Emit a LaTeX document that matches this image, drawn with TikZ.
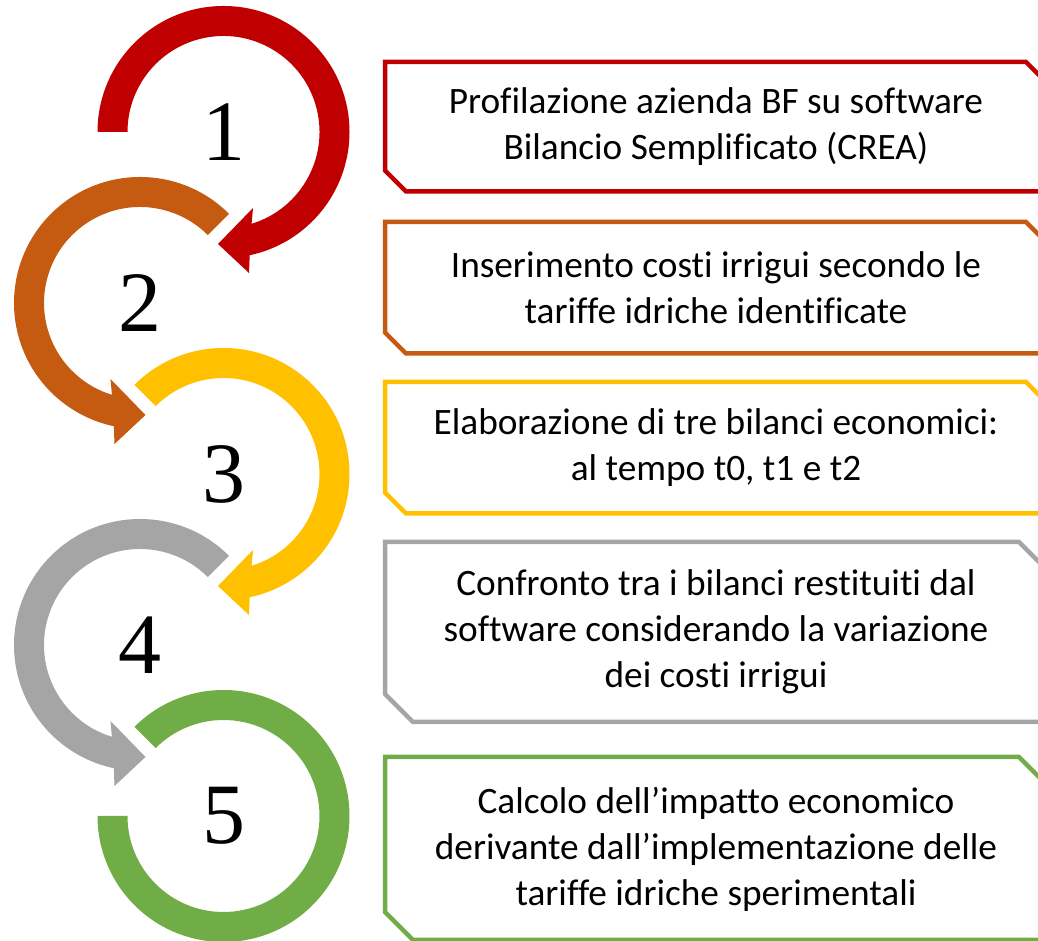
\documentclass[tikz,border=0pt]{standalone}
\usepackage{fontspec}
\setmainfont{Carlito}[Ligatures=NoCommon]
\newfontfamily\numfont{Liberation Serif}
\definecolor{cred}{HTML}{C00000}
\definecolor{corange}{HTML}{C55A11}
\definecolor{cyellow}{HTML}{FFC000}
\definecolor{cgray}{HTML}{A5A5A5}
\definecolor{cgreen}{HTML}{70AD47}
\newcommand\cwarrow[3]{%
  \fill[#3,shift={#1}] (#2:96) -- (#2:126) arc[start angle=#2, end angle=-78, radius=126]
    -- (25.5,-141) -- (-5.5,-112) -- (29.5,-76) -- (-73:96)
    arc[start angle=-73, end angle=#2, radius=96] -- cycle;}
\newcommand\ccwarrow[3]{%
  \fill[#3,shift={#1}] (#2:96) -- (#2:126) arc[start angle=#2, end angle=258, radius=126]
    -- (-25.5,-141) -- (5.5,-112) -- (-29.5,-76) -- (253:96)
    arc[start angle=253, end angle=#2, radius=96] -- cycle;}
\newcommand\snipbox[4]{%
  \draw[boxline,#4] (385,{941-#1}) -- ({1047-#3},{941-#1}) -- (1047,{941-#1-#3})
    -- (1047,{941-#2}) -- ({385+#3},{941-#2}) -- (385,{941-#2+#3}) -- cycle;}
\begin{document}
\begin{tikzpicture}[x=1pt,y=1pt,
  boxline/.style={line width=4.5pt, line join=miter},
  numlabel/.style={font=\numfont\fontsize{86}{90}\selectfont, inner sep=0pt},
  boxtext/.style={font=\fontsize{37.3}{46}\selectfont, align=center, inner sep=0pt}]
\useasboundingbox (0,0) rectangle (1038,941);
\clip (0,0) rectangle (1038,941);
% circular arrows
\cwarrow{(223.5,809)}{180}{cred}
\ccwarrow{(140,638)}{45}{corange}
\cwarrow{(223.5,467)}{135}{cyellow}
\ccwarrow{(140,296)}{45}{cgray}
\fill[cgreen,shift={(223.5,125)}] (135:96) -- (135:126) arc[start angle=135, end angle=-180, radius=126]
   -- (-180:96) arc[start angle=-180, end angle=135, radius=96] -- cycle;
% numbers
\node[numlabel] (n1) at (223.5,809) {1};
\node[numlabel] (n2) at (140,638) {2};
\node[numlabel] (n3) at (223.5,467) {3};
\node[numlabel] (n4) at (140,296) {4};
\node[numlabel] (n5) at (223.5,125) {5};
% boxes
\snipbox{62}{191.5}{21}{cred}
\snipbox{222}{353.5}{21}{corange}
\snipbox{382}{513.5}{21}{cyellow}
\snipbox{542}{722}{28}{cgray}
\snipbox{757}{940}{28}{cgreen}
% texts
\node[boxtext] (t1) at (716,814) {Profilazione azienda BF su software\\Bilancio Semplificato (CREA)};
\node[boxtext] (t2) at (716,653) {Inserimento costi irrigui secondo le\\tariffe idriche identificate};
\node[boxtext] (t3) at (716,493) {Elaborazione di tre bilanci economici:\\al tempo t0, t1 e t2};
\node[boxtext] (t4) at (716,309) {Confronto tra i bilanci restituiti dal\\software considerando la variazione\\dei costi irrigui};
\node[boxtext] (t5) at (716,92) {Calcolo dell’impatto economico\\derivante dall’implementazione delle\\tariffe idriche sperimentali};
\end{tikzpicture}
\end{document}
